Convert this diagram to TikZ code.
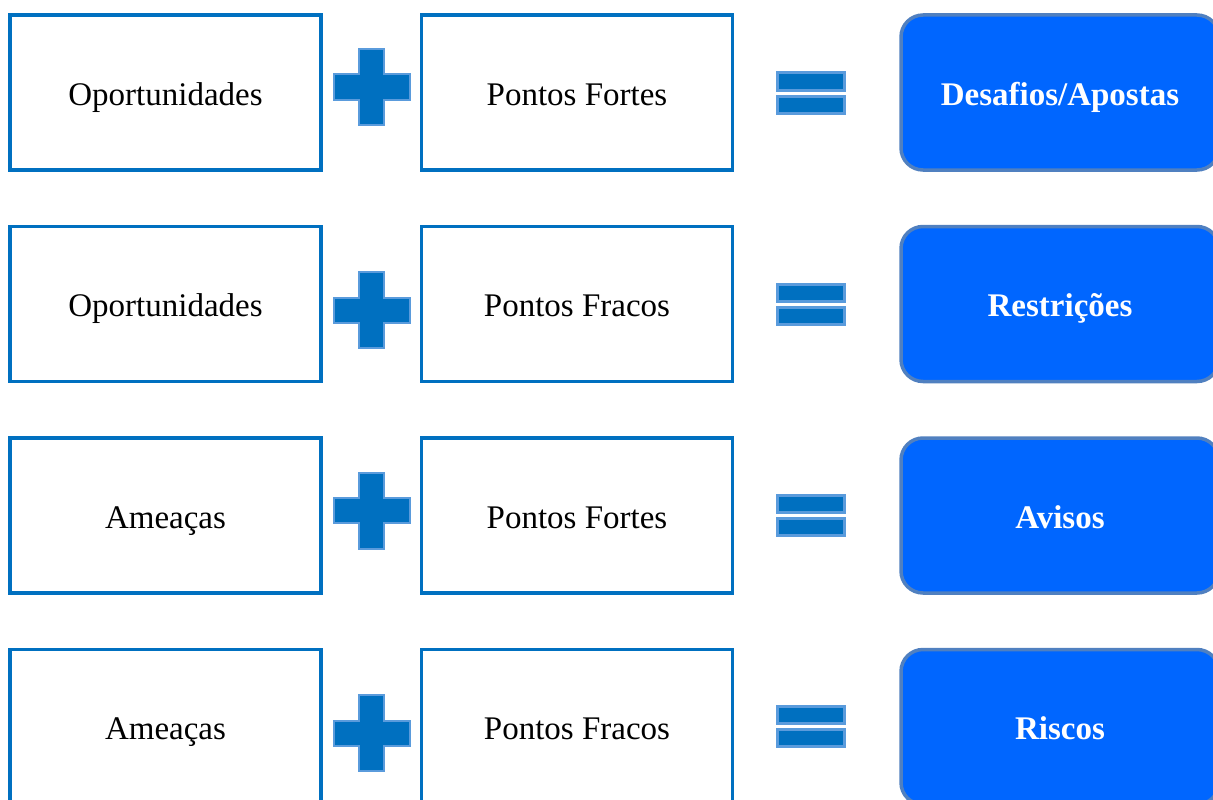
\documentclass[tikz,border=0pt]{standalone}
\usepackage{fontspec}
\setmainfont{Liberation Serif}
\definecolor{boxblue}{HTML}{0070C0}
\definecolor{resfill}{HTML}{0066FF}
\definecolor{resedge}{HTML}{5080C0}
\definecolor{signedge}{HTML}{5A9BDC}
\begin{document}
\begin{tikzpicture}[x=1pt,y=-1pt,
  inbox/.style={draw=boxblue, line width=3.5pt, fill=white, minimum width=311pt,
    minimum height=155pt, inner sep=0pt, text height=26pt, text depth=1pt,
    font=\fontsize{33}{40}\selectfont},
  resbox/.style={draw=resedge, fill=resfill, line width=3.5pt, rounded corners=22pt,
    minimum width=318pt, minimum height=155pt, inner sep=0pt, text height=26pt,
    text depth=1pt, text=white, font=\fontsize{33}{40}\selectfont\bfseries},
  plussign/.style={fill=boxblue, draw=signedge, line width=2pt},
  eqbar/.style={fill=boxblue, draw=signedge, line width=3pt},
  plusmark/.pic={\path[plussign] (-12.5,-38) -- (12.5,-38) -- (12.5,-12.5) -- (38,-12.5)
    -- (38,12.5) -- (12.5,12.5) -- (12.5,38) -- (-12.5,38) -- (-12.5,12.5)
    -- (-38,12.5) -- (-38,-12.5) -- (-12.5,-12.5) -- cycle;},
  eqmark/.pic={\path[eqbar] (-33.5,-20) rectangle (33.5,-3);
    \path[eqbar] (-33.5,3) rectangle (33.5,20);}
]
\useasboundingbox (0,0) rectangle (1213,800);
\fill[white] (0,0) rectangle (1213,800);

% row 1
\node[inbox] (a1) at (165.5,92.5) {Oportunidades};
\node[inbox] (b1) at (577,92.5) {Pontos Fortes};
\node[resbox] (r1) at (1060,92.5) {Desafios/Apostas};
\pic at (371.5,87) {plusmark};
\pic at (811,93) {eqmark};

% row 2
\node[inbox] (a2) at (165.5,304) {Oportunidades};
\node[inbox] (b2) at (577,304) {Pontos Fracos};
\node[resbox] (r2) at (1060,304) {Restrições};
\pic at (371.5,310) {plusmark};
\pic at (811,304.5) {eqmark};

% row 3
\node[inbox] (a3) at (165.5,515.5) {Ameaças};
\node[inbox] (b3) at (577,515.5) {Pontos Fortes};
\node[resbox] (r3) at (1060,515.5) {Avisos};
\pic at (371.5,510.5) {plusmark};
\pic at (811,515.5) {eqmark};

% row 4
\node[inbox] (a4) at (165.5,727) {Ameaças};
\node[inbox] (b4) at (577,727) {Pontos Fracos};
\node[resbox] (r4) at (1060,727) {Riscos};
\pic at (371.5,733) {plusmark};
\pic at (811,726.5) {eqmark};
\end{tikzpicture}
\end{document}
